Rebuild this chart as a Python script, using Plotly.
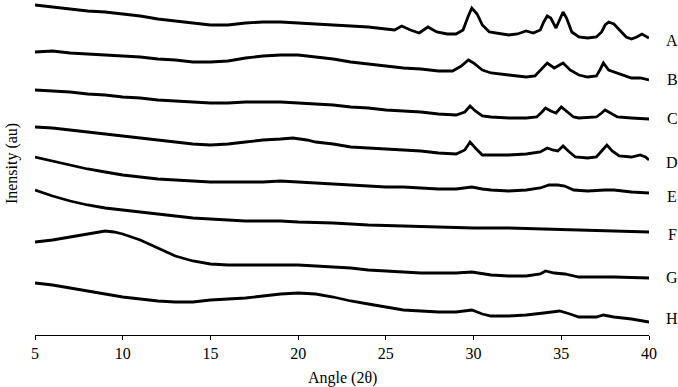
import plotly.graph_objects as go

# Angles (2θ) and read trace levels (depth from top of plot, arbitrary units; axis reversed)
A_x = [5, 6, 7, 8, 9, 10, 11, 12, 13, 14, 15, 16, 17, 18, 19, 20, 21, 22, 23, 24, 25, 25.5, 25.9, 26.4, 26.9, 27.4, 27.9, 28.5, 29.0, 29.4, 29.7, 29.9, 30.2, 30.5, 30.9, 31.5, 32.0, 32.5, 33.0, 33.4, 33.8, 34.0, 34.2, 34.4, 34.7, 34.9, 35.1, 35.3, 35.6, 36.0, 36.5, 37.0, 37.3, 37.5, 37.7, 38.0, 38.3, 38.7, 39.0, 39.3, 39.6, 39.8, 40.0]
A_y = [5, 7, 9, 11, 12, 14, 16, 19, 21, 23, 25, 25, 23, 22, 22, 23, 24, 25, 26, 27, 29, 30, 26, 30, 33, 27, 32, 34, 34, 30, 16, 8, 14, 25, 32, 34, 35, 34, 31, 33, 30, 22, 16, 18, 28, 20, 12, 18, 32, 37, 38, 37, 32, 25, 22, 24, 30, 37, 39, 37, 34, 36, 38]

B_x = [5, 6, 7, 8, 9, 10, 11, 12, 13, 14, 15, 16, 17, 18, 19, 20, 21, 22, 23, 24, 25, 26, 27, 28, 28.8, 29.3, 29.7, 30.0, 30.5, 31, 32, 33, 33.5, 33.9, 34.2, 34.6, 35.1, 35.5, 36, 36.5, 37, 37.2, 37.4, 37.7, 38, 38.5, 39, 39.5, 40]
B_y = [52, 51, 53, 54, 55, 56, 57, 59, 60, 62, 62, 61, 58, 56, 55, 55, 57, 59, 62, 64, 66, 68, 69, 71, 71, 66, 60, 63, 70, 73, 75, 77, 76, 68, 63, 68, 63, 70, 75, 77, 76, 70, 63, 70, 72, 75, 78, 78, 80]

C_x = [5, 6, 7, 8, 9, 10, 11, 12, 13, 14, 15, 16, 17, 18, 19, 20, 21, 22, 23, 24, 25, 26, 27, 28, 29, 29.5, 29.8, 30.1, 30.5, 31, 32, 33, 33.6, 33.9, 34.1, 34.4, 34.7, 35.0, 35.3, 35.7, 36, 37, 37.3, 37.5, 37.8, 38.2, 39, 40]
C_y = [90, 91, 92, 94, 95, 97, 98, 100, 101, 102, 103, 103, 102, 102, 102, 103, 104, 105, 107, 108, 110, 111, 112, 114, 115, 112, 106, 111, 116, 117, 118, 118, 117, 112, 108, 111, 113, 107, 111, 117, 118, 117, 113, 110, 113, 117, 118, 119]

D_x = [5, 6, 7, 8, 9, 10, 11, 12, 13, 14, 15, 16, 17, 18, 19, 19.7, 20.5, 21, 22, 23, 24, 25, 26, 27, 28, 29, 29.5, 29.8, 30.1, 30.5, 31, 32, 33, 33.8, 34.2, 34.5, 34.8, 35.1, 35.4, 35.8, 36.5, 37, 37.3, 37.6, 37.9, 38.3, 39, 39.5, 39.8, 40]
D_y = [127, 128, 130, 132, 134, 136, 138, 140, 142, 144, 145, 144, 142, 140, 139, 138, 140, 142, 144, 147, 148, 149, 150, 151, 153, 154, 150, 142, 148, 155, 155, 155, 154, 152, 148, 150, 151, 146, 151, 157, 158, 157, 151, 145, 151, 156, 157, 155, 157, 160]

E_x = [5, 6, 7, 8, 9, 10, 11, 12, 13, 14, 15, 16, 17, 18, 19, 20, 21, 22, 23, 24, 25, 26, 27, 28, 29, 29.9, 30.5, 31, 32, 33, 33.8, 34.3, 34.8, 35.2, 35.7, 36.5, 37.5, 38, 39, 40]
E_y = [157, 161, 165, 169, 172, 175, 177, 179, 180, 181, 182, 182, 182, 182, 181, 182, 183, 184, 185, 186, 187, 187, 188, 189, 189, 187, 189, 190, 191, 190, 188, 185, 185, 186, 190, 191, 190, 190, 192, 193]

F_x = [5, 5.5, 6, 7, 8, 9, 10, 11, 12, 13, 14, 15, 16, 17, 18, 19, 20, 22, 24, 26, 28, 30, 32, 34, 36, 38, 40]
F_y = [190, 193, 196, 201, 205, 208, 210, 212, 214, 216, 218, 219, 220, 221, 221, 221, 222, 223, 225, 226, 227, 228, 228, 229, 230, 231, 232]

G_x = [5, 6, 7, 8, 8.5, 9, 9.5, 10, 10.5, 11, 12, 13, 14, 15, 16, 17, 18, 19, 20, 21, 22, 23, 24, 25, 26, 27, 28, 29, 29.9, 30.5, 31, 32, 33, 33.8, 34.1, 34.6, 35.2, 36, 38, 40]
G_y = [242, 240, 237, 234, 232, 231, 232, 234, 237, 240, 248, 256, 261, 264, 265, 265, 265, 265, 265, 266, 267, 268, 270, 271, 272, 273, 273, 273, 272, 274, 275, 276, 276, 274, 271, 273, 274, 277, 277, 278]

H_x = [5, 6, 7, 8, 9, 10, 11, 12, 13, 14, 15, 16, 17, 18, 19, 20, 21, 22, 23, 24, 25, 26, 27, 28, 29, 29.9, 30.5, 31, 32, 33, 34, 34.9, 35.5, 36, 37, 37.4, 38, 39, 40]
H_y = [283, 285, 288, 291, 294, 297, 299, 301, 302, 302, 300, 299, 298, 296, 294, 293, 294, 297, 301, 304, 307, 310, 311, 312, 312, 310, 314, 316, 316, 315, 313, 311, 314, 317, 317, 315, 317, 319, 322]

series_names = ["A", "B", "C", "D", "E", "F", "G", "H"]
series_x = [A_x, B_x, C_x, D_x, E_x, F_x, G_x, H_x]
series_y = [A_y, B_y, C_y, D_y, E_y, F_y, G_y, H_y]
label_levels = [40, 79, 118, 162, 196, 234, 277, 318]
x_ticks = [5, 10, 15, 20, 25, 30, 35, 40]

FONT = "Liberation Serif"
FS = 16

fig = go.Figure()
for name, xs, ys in zip(series_names, series_x, series_y):
    fig.add_trace(go.Scatter(x=xs, y=ys, mode="lines", name=name,
                             line=dict(color="black", width=2.8), showlegend=False))

annotations = []
for name, lvl in zip(series_names, label_levels):
    annotations.append(dict(x=1.0375, xref="paper", y=lvl, yref="y", text=name,
                            showarrow=False, xanchor="center", yanchor="middle",
                            font=dict(family=FONT, size=FS, color="black")))
annotations.append(dict(x=0.5, xref="paper", y=-0.128, yref="paper", text="Angle (2θ)",
                        showarrow=False, xanchor="center", yanchor="middle",
                        font=dict(family=FONT, size=FS, color="black")))
annotations.append(dict(x=-0.0375, xref="paper", y=0.513, yref="paper", text="Inensity (au)",
                        textangle=-90, showarrow=False, xanchor="center", yanchor="middle",
                        font=dict(family=FONT, size=FS, color="black")))

fig.update_layout(
    width=678, height=387,
    margin=dict(l=35, r=29, t=0, b=52),
    paper_bgcolor="white", plot_bgcolor="white",
    annotations=annotations,
    xaxis=dict(range=[5, 40], tickvals=x_ticks, ticktext=[str(t) for t in x_ticks],
               showline=True, linecolor="black", linewidth=1, ticks="outside",
               ticklen=4, tickcolor="black", showgrid=False, zeroline=False,
               tickfont=dict(family=FONT, size=FS, color="black")),
    yaxis=dict(range=[335, 0], visible=False, showgrid=False, zeroline=False),
)

fig.write_html("out.html")
